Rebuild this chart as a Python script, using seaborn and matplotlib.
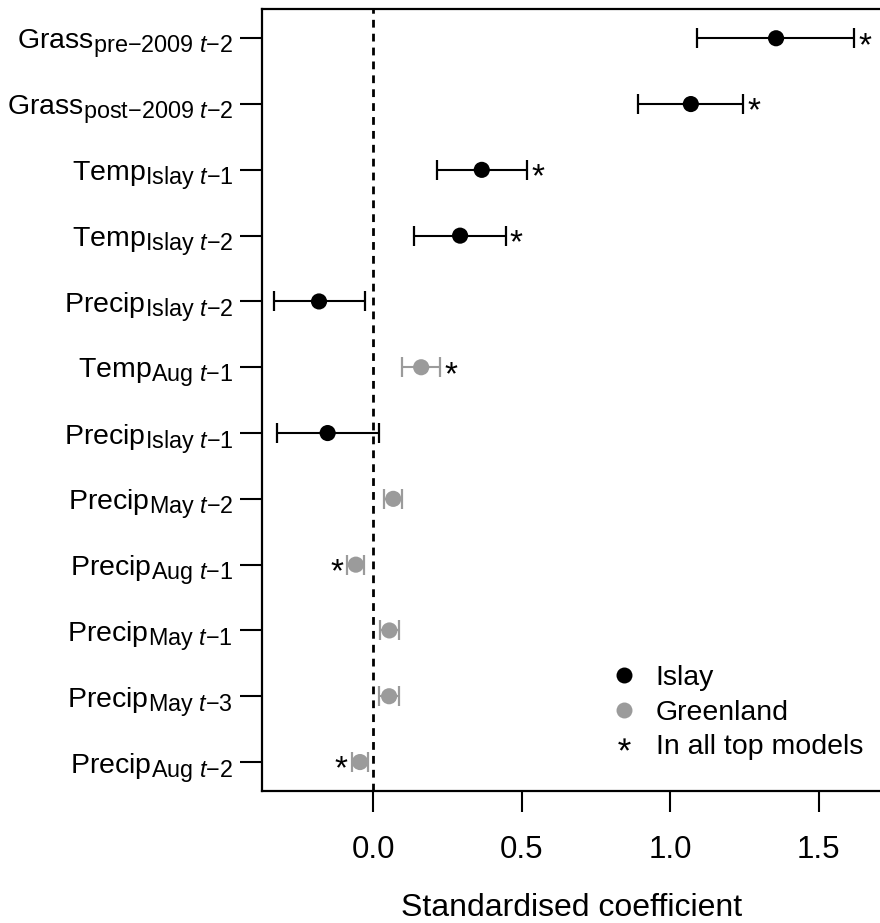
import numpy as np
import pandas as pd
import matplotlib
matplotlib.use("Agg")
import matplotlib.pyplot as plt
import matplotlib.transforms as mtransforms
from matplotlib.lines import Line2D
import seaborn as sns
import matplotlib._mathtext as _mt

_mt.SHRINK_FACTOR = 0.82

M = "\u2212"
# ---------------- data ----------------
labels = [
    "Grass$_{\\text{pre" + M + "2009}\\ \\mathit{t}\\text{" + M + "2}}$",
    "Grass$_{\\text{post" + M + "2009}\\ \\mathit{t}\\text{" + M + "2}}$",
    "Temp$_{\\text{Islay}\\ \\mathit{t}\\text{" + M + "1}}$",
    "Temp$_{\\text{Islay}\\ \\mathit{t}\\text{" + M + "2}}$",
    "Precip$_{\\text{Islay}\\ \\mathit{t}\\text{" + M + "2}}$",
    "Temp$_{\\text{Aug}\\ \\mathit{t}\\text{" + M + "1}}$",
    "Precip$_{\\text{Islay}\\ \\mathit{t}\\text{" + M + "1}}$",
    "Precip$_{\\text{May}\\ \\mathit{t}\\text{" + M + "2}}$",
    "Precip$_{\\text{Aug}\\ \\mathit{t}\\text{" + M + "1}}$",
    "Precip$_{\\text{May}\\ \\mathit{t}\\text{" + M + "1}}$",
    "Precip$_{\\text{May}\\ \\mathit{t}\\text{" + M + "3}}$",
    "Precip$_{\\text{Aug}\\ \\mathit{t}\\text{" + M + "2}}$",
]
estimate = [1.356, 1.069, 0.365, 0.292, -0.183, 0.161, -0.154, 0.067, -0.059, 0.054, 0.053, -0.045]
lower = [1.091, 0.890, 0.213, 0.137, -0.334, 0.098, -0.325, 0.037, -0.088, 0.023, 0.020, -0.072]
upper = [1.619, 1.246, 0.517, 0.446, -0.028, 0.225, 0.019, 0.098, -0.030, 0.088, 0.087, -0.017]
site = ["Islay", "Islay", "Islay", "Islay", "Islay", "Greenland", "Islay",
        "Greenland", "Greenland", "Greenland", "Greenland", "Greenland"]
star_side = ["right", "right", "right", "right", "", "right", "",
             "", "left", "", "", "left"]
x_ticks = [0.0, 0.5, 1.0, 1.5]
x_ticklabels = ["0.0", "0.5", "1.0", "1.5"]
legend_labels = ["Islay", "Greenland", "In all top models"]

df = pd.DataFrame({"label": labels, "estimate": estimate, "lower": lower,
                   "upper": upper, "site": site, "star": star_side})
df["pos"] = np.arange(len(df))

palette = {"Islay": "black", "Greenland": "#9b9b9b"}

# ---------------- style ----------------
sns.set_theme(style="white")
plt.rcParams["font.family"] = ["Liberation Sans", "DejaVu Sans"]
plt.rcParams["mathtext.fontset"] = "custom"
plt.rcParams["mathtext.rm"] = "Liberation Sans"
plt.rcParams["mathtext.it"] = "Liberation Sans:italic"
plt.rcParams["mathtext.bf"] = "Liberation Sans:bold"
plt.rcParams["text.color"] = "black"
plt.rcParams["xtick.color"] = "black"
plt.rcParams["ytick.color"] = "black"
plt.rcParams["axes.labelcolor"] = "black"

W, H = 880, 923
fig = plt.figure(figsize=(W / 100, H / 100), dpi=100)
x0, x1 = 261.7, 881.2
y0, y1 = 9.3, 791.0
ax = fig.add_axes([x0 / W, 1 - y1 / H, (x1 - x0) / W, (y1 - y0) / H])

# zero line
ax.axvline(0, color="black", lw=2.0, ls=(0, (2.8, 2.2)), zorder=1)

# error bars
for s, g in df.groupby("site"):
    ax.errorbar(g["estimate"], g["pos"],
                xerr=[g["estimate"] - g["lower"], g["upper"] - g["estimate"]],
                fmt="none", ecolor=palette[s], elinewidth=1.5, capsize=7.5,
                capthick=1.6, zorder=2)

# points
sns.scatterplot(data=df, x="estimate", y="pos", hue="site", palette=palette,
                s=135, edgecolor="none", legend=False, ax=ax, zorder=3)

# stars
for _, r in df.iterrows():
    if r["star"] == "right":
        tr = mtransforms.offset_copy(ax.transData, fig=fig, x=3, y=-12.0, units="points")
        ax.text(r["upper"], r["pos"], "*", ha="left", va="baseline",
                fontsize=24, color="black", transform=tr)
    elif r["star"] == "left":
        tr = mtransforms.offset_copy(ax.transData, fig=fig, x=-3, y=-12.0, units="points")
        ax.text(r["lower"], r["pos"], "*", ha="right", va="baseline",
                fontsize=24, color="black", transform=tr)

ax.set_xlim(-0.376, 1.71)
ax.set_ylim(len(df) - 1 + 0.44, -0.44)
ax.set_yticks(df["pos"])
ax.set_yticklabels(df["label"], fontsize=20.5)
ax.set_xticks(x_ticks)
ax.set_xticklabels(x_ticklabels, fontsize=22.5)
ax.set_ylabel("")
ax.set_xlabel("Standardised coefficient", fontsize=23, labelpad=20)

ax.tick_params(axis="x", bottom=True, direction="out", length=15, width=1.5, pad=17, color="black")
ax.tick_params(axis="y", left=True, direction="out", length=15.5, width=1.5, pad=5, color="black")
for sp in ax.spines.values():
    sp.set_color("black")
    sp.set_linewidth(1.6)

handles = [
    Line2D([], [], marker="o", ls="", color=palette["Islay"], markersize=11.5, markeredgewidth=0),
    Line2D([], [], marker="o", ls="", color=palette["Greenland"], markersize=11.5, markeredgewidth=0),
    Line2D([], [], marker="$*$", ls="", color="black", markersize=9, markeredgewidth=0),
]
ax.legend(handles, legend_labels, loc="upper left", frameon=False,
          bbox_to_anchor=(610 / W, 1 - 665 / H), bbox_transform=fig.transFigure,
          fontsize=20.5, handlelength=1.0, handletextpad=0.6, labelspacing=0.3,
          borderpad=0, borderaxespad=0)

fig.savefig("out.png", dpi=100)
